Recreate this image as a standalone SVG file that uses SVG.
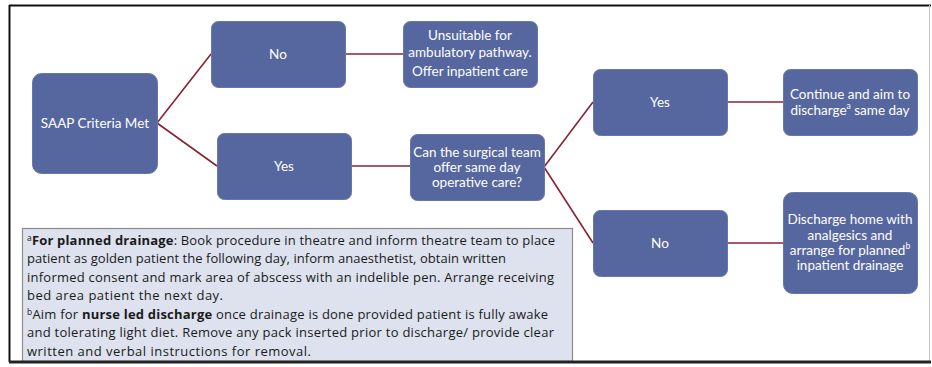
<svg xmlns="http://www.w3.org/2000/svg" width="932" height="367" viewBox="0 0 932 367">
  <style>
    .node rect { fill: #56679f; stroke: #6677ad; stroke-width: 1; }
    .node text { fill: #ffffff; font-family: Lato, "Open Sans", sans-serif; font-size: 13.5px; text-anchor: middle; dominant-baseline: central; }
    .sup { font-size: 8.5px; baseline-shift: 40%; }
    #connectors line { stroke: #8a2233; stroke-width: 1.6; }
    .note { font-family: "Open Sans", "Liberation Sans", sans-serif; font-size: 13px; fill: #1a1a1a; }
    .note .b { font-weight: bold; }
    .note .s { font-size: 8.5px; baseline-shift: 45%; }
  </style>

  <!-- frame -->
  <rect x="0" y="0" width="932" height="367" fill="#ffffff"/>
  <line x1="9.5" y1="5" x2="9.5" y2="362" stroke="#111" stroke-width="2"/>
  <line x1="9" y1="5.5" x2="931" y2="5.5" stroke="#111" stroke-width="2"/>
  <line x1="929.5" y1="5" x2="929.5" y2="362" stroke="#c8c8c8" stroke-width="1"/>

  <!-- footnote panel -->
  <g id="footnotes">
    <rect x="22.5" y="228.5" width="550" height="133" fill="#dde2ee" stroke="#8c8c8c" stroke-width="1.2"/>
    <text class="note" x="27" y="244.5" textLength="528" lengthAdjust="spacing"><tspan class="s">a</tspan><tspan class="b">For planned drainage</tspan>: Book procedure in theatre and inform theatre team to place</text>
    <text class="note" x="27" y="263" textLength="479" lengthAdjust="spacing">patient as golden patient the following day, inform anaesthetist, obtain written</text>
    <text class="note" x="27" y="281.5" textLength="527" lengthAdjust="spacing">informed consent and mark area of abscess with an indelible pen. Arrange receiving</text>
    <text class="note" x="27" y="300" textLength="196" lengthAdjust="spacing">bed area patient the next day.</text>
    <text class="note" x="27" y="318.5" textLength="521" lengthAdjust="spacing"><tspan class="s">b</tspan>Aim for <tspan class="b">nurse led discharge</tspan> once drainage is done provided patient is fully awake</text>
    <text class="note" x="27" y="337" textLength="527" lengthAdjust="spacing">and tolerating light diet. Remove any pack inserted prior to discharge/ provide clear</text>
    <text class="note" x="27" y="355.5" textLength="284" lengthAdjust="spacing">written and verbal  instructions for removal.</text>
  </g>
  <line x1="9" y1="362" x2="931" y2="362" stroke="#222" stroke-width="3"/>

  <!-- connectors -->
  <g id="connectors">
    <line x1="157" y1="123" x2="211" y2="54"/>
    <line x1="157" y1="123" x2="217" y2="166"/>
    <line x1="345" y1="54" x2="403" y2="54"/>
    <line x1="351" y1="166" x2="410" y2="166"/>
    <line x1="544" y1="167" x2="593" y2="102"/>
    <line x1="544" y1="167" x2="593" y2="243"/>
    <line x1="728" y1="102" x2="783" y2="102"/>
    <line x1="727" y1="243" x2="783" y2="243"/>
  </g>

  <!-- nodes -->
  <g id="saap" class="node">
    <rect x="32.5" y="73.5" width="125" height="100" rx="9"/>
    <text x="95" y="123">SAAP Criteria Met</text>
  </g>
  <g id="no-criteria" class="node">
    <rect x="211.5" y="21.5" width="134" height="66" rx="7"/>
    <text x="278" y="54">No</text>
  </g>
  <g id="yes-criteria" class="node">
    <rect x="217.5" y="133.5" width="134" height="66" rx="7"/>
    <text x="284" y="166">Yes</text>
  </g>
  <g id="unsuitable" class="node">
    <rect x="403.5" y="21.5" width="134" height="66" rx="7"/>
    <text x="470" y="35">Unsuitable for</text>
    <text x="470" y="52">ambulatory pathway.</text>
    <text x="470" y="71">Offer inpatient care</text>
  </g>
  <g id="same-day-question" class="node">
    <rect x="410.5" y="134.5" width="134" height="66" rx="7"/>
    <text x="477" y="152">Can the surgical team</text>
    <text x="477" y="167">offer same day</text>
    <text x="477" y="182">operative care?</text>
  </g>
  <g id="yes-same-day" class="node">
    <rect x="593.5" y="69.5" width="134" height="66" rx="7"/>
    <text x="660" y="102">Yes</text>
  </g>
  <g id="continue" class="node">
    <rect x="783.5" y="69.5" width="134" height="66" rx="7"/>
    <text x="850" y="94">Continue and aim to</text>
    <text x="850" y="110">discharge<tspan class="sup">a</tspan> same day</text>
  </g>
  <g id="no-same-day" class="node">
    <rect x="593.5" y="210.5" width="134" height="66" rx="7"/>
    <text x="660" y="243">No</text>
  </g>
  <g id="discharge-home" class="node">
    <rect x="783.5" y="192.5" width="134" height="101" rx="9"/>
    <text x="850" y="219">Discharge home with</text>
    <text x="850" y="235">analgesics and</text>
    <text x="850" y="250">arrange for planned<tspan class="sup">b</tspan></text>
    <text x="850" y="265">inpatient drainage</text>
  </g>
</svg>
